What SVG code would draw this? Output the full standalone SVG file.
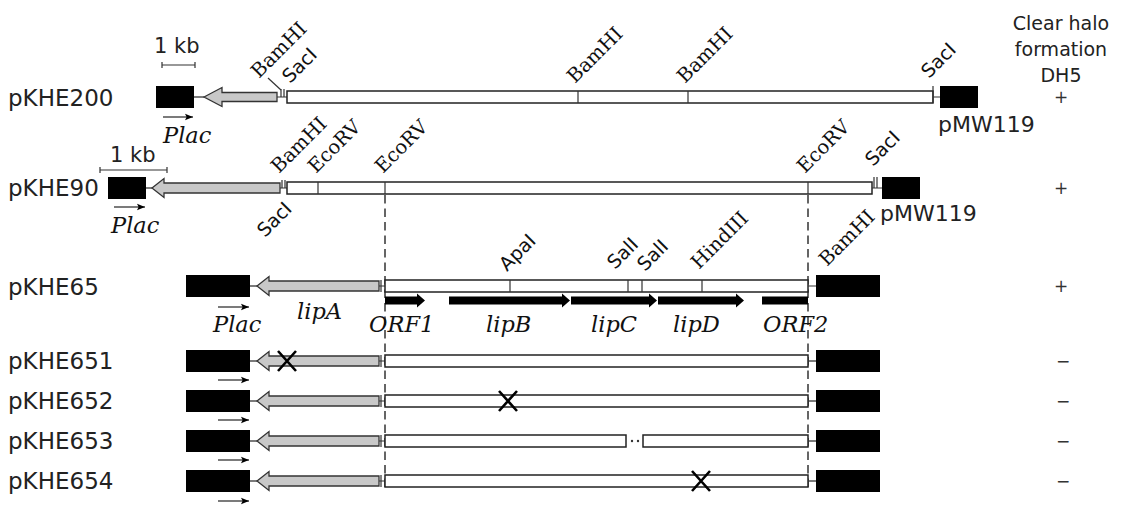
<svg xmlns="http://www.w3.org/2000/svg" width="1123" height="505" viewBox="0 0 1123 505">
<defs>
<style>
.lbl{font-family:"DejaVu Sans",sans-serif;font-size:23px;fill:#222}
.pmw{font-family:"DejaVu Sans",sans-serif;font-size:22px;fill:#222}
.kb{font-family:"DejaVu Sans",sans-serif;font-size:21px;fill:#222}
.hd{font-family:"DejaVu Sans",sans-serif;font-size:19px;fill:#222;text-anchor:middle}
.pm{font-family:"DejaVu Sans",sans-serif;font-size:17px;fill:#333;text-anchor:middle}
.site{font-family:"DejaVu Serif",serif;font-size:19.5px;fill:#111}
.sites{font-family:"DejaVu Sans",sans-serif;font-size:19px;fill:#111}
.it{font-family:"DejaVu Serif",serif;font-style:italic;font-size:22.5px;fill:#111}
.blk{fill:#000}
.gray{fill:#c8c8c8;stroke:#333;stroke-width:1.3}
.box{fill:#fff;stroke:#222;stroke-width:1.5}
.ln{stroke:#333;stroke-width:1.3;fill:none}
.tk{stroke:#333;stroke-width:1.2;fill:none}
.dash{stroke:#333;stroke-width:1.5;stroke-dasharray:8.5 5;fill:none}
.x{stroke:#000;stroke-width:2.6;fill:none}
.orf{fill:#000}
</style>
<marker id="ah" viewBox="0 0 10 10" refX="10" refY="5" markerWidth="9" markerHeight="8" markerUnits="userSpaceOnUse" orient="auto">
<path d="M0,1 L10,5 L0,9 L2,5 Z" fill="#000"/>
</marker>
</defs>
<rect width="1123" height="505" fill="#fff"/>

<g id="header">
<text class="hd" x="1061" y="30">Clear halo</text>
<text class="hd" x="1061" y="56">formation</text>
<text class="hd" x="1061" y="82">DH5</text>
</g>

<g id="connectors">
<line class="dash" x1="385" y1="195" x2="385" y2="492"/>
<line class="dash" x1="808" y1="195" x2="808" y2="492"/>
<line class="tk" x1="268" y1="78" x2="281" y2="90"/>
</g>

<g id="pKHE200">
<text class="lbl" x="8" y="106">pKHE200</text>
<text class="kb" x="154" y="53">1 kb</text>
<path class="tk" d="M162,65 H195 M162,62 V68 M195,62 V68"/>
<rect class="blk" x="156" y="86" width="38" height="22"/>
<line class="ln" x1="194" y1="97" x2="204" y2="97"/>
<polygon class="gray" points="204,97 222,87.5 222,92.5 277,92.5 277,101.5 222,101.5 222,106.5"/>
<path class="tk" d="M277,97 H287 M281,89 V97 M284,89 V97"/>
<rect class="box" x="287" y="91" width="646" height="12"/>
<path class="tk" d="M578,91 V103 M688,91 V103 M933,86 V103 M933,97 H940"/>
<rect class="blk" x="940" y="86" width="38" height="22"/>
<line class="ln" x1="163" y1="117" x2="193" y2="117" marker-end="url(#ah)"/>
<text class="it" x="163" y="143">Plac</text>
<text class="site" transform="translate(259,79) rotate(-45)">BamHI</text>
<text class="sites" transform="translate(290,84) rotate(-45)">SacI</text>
<text class="site" transform="translate(575,84) rotate(-45)">BamHI</text>
<text class="site" transform="translate(685,84) rotate(-45)">BamHI</text>
<text class="sites" transform="translate(929,79) rotate(-45)">SacI</text>
<text class="pmw" x="938" y="132">pMW119</text>
<text class="pm" x="1061" y="103">+</text>
</g>

<g id="pKHE90">
<text class="lbl" x="8" y="196">pKHE90</text>
<text class="kb" x="110" y="162">1 kb</text>
<path class="tk" d="M100,170 H167 M100,167 V173 M167,167 V173"/>
<rect class="blk" x="108" y="177" width="38" height="22"/>
<line class="ln" x1="146" y1="188" x2="152" y2="188"/>
<polygon class="gray" points="152,188 164,178.5 164,183 280,183 280,193 164,193 164,197.5"/>
<path class="tk" d="M280,188 H287 M282,180 V188 M285,180 V188"/>
<rect class="box" x="287" y="182" width="585" height="12"/>
<path class="tk" d="M318,182 V194 M385,182 V194 M808,182 V194 M874,177 V188 M877,177 V188 M872,188 H882"/>
<rect class="blk" x="882" y="177" width="38" height="22"/>
<line class="ln" x1="114" y1="207" x2="145" y2="207" marker-end="url(#ah)"/>
<text class="it" x="111" y="233">Plac</text>
<text class="site" transform="translate(279,174) rotate(-45)">BamHI</text>
<text class="site" transform="translate(316,174) rotate(-45)">EcoRV</text>
<text class="site" transform="translate(383,174) rotate(-45)">EcoRV</text>
<text class="site" transform="translate(805,174) rotate(-45)">EcoRV</text>
<text class="sites" transform="translate(873,167) rotate(-45)">SacI</text>
<text class="sites" transform="translate(293,210) rotate(-45)" text-anchor="end">SacI</text>
<text class="pmw" x="880" y="221">pMW119</text>
<text class="pm" x="1061" y="194">+</text>
</g>

<g id="pKHE65">
<text class="lbl" x="8" y="295">pKHE65</text>
<rect class="blk" x="186" y="275" width="64" height="22"/>
<line class="ln" x1="250" y1="286" x2="257" y2="286"/>
<polygon class="gray" points="257,286 269,276.5 269,281 379,281 379,291 269,291 269,295.5"/>
<path class="tk" d="M379,286 H385 M381,280 V292"/>
<rect class="box" x="385" y="280" width="423" height="12"/>
<path class="tk" d="M510,280 V292 M628,280 V292 M642,280 V292 M702,280 V292 M808,286 H816"/>
<rect class="blk" x="816" y="275" width="64" height="22"/>
<polygon class="orf" points="385,296.5 417,296.5 417,293.5 425,300.5 417,307.5 417,304.5 385,304.5"/>
<polygon class="orf" points="449,296.5 562,296.5 562,293.5 570,300.5 562,307.5 562,304.5 449,304.5"/>
<polygon class="orf" points="571,296.5 649,296.5 649,293.5 657,300.5 649,307.5 649,304.5 571,304.5"/>
<polygon class="orf" points="658,296.5 736,296.5 736,293.5 744,300.5 736,307.5 736,304.5 658,304.5"/>
<rect class="orf" x="762" y="296.5" width="46" height="8"/>
<line class="ln" x1="218" y1="307" x2="249" y2="307" marker-end="url(#ah)"/>
<text class="it" x="213" y="332">Plac</text>
<text class="it" x="297" y="319">lipA</text>
<text class="it" x="369" y="332">ORF1</text>
<text class="it" x="486" y="332">lipB</text>
<text class="it" x="591" y="332">lipC</text>
<text class="it" x="673" y="332">lipD</text>
<text class="it" x="763" y="332">ORF2</text>
<text class="sites" transform="translate(507,272) rotate(-45)">ApaI</text>
<text class="sites" transform="translate(615,270) rotate(-45)">SalI</text>
<text class="sites" transform="translate(645,272) rotate(-45)">SalI</text>
<text class="site" transform="translate(699,270) rotate(-45)">HindIII</text>
<text class="site" transform="translate(827,267) rotate(-45)">BamHI</text>
<text class="pm" x="1061" y="292">+</text>
</g>

<g id="pKHE651">
<text class="lbl" x="8" y="369">pKHE651</text>
<rect class="blk" x="186" y="350" width="64" height="22"/>
<line class="ln" x1="250" y1="361" x2="257" y2="361"/>
<polygon class="gray" points="257,361 269,351.5 269,356 379,356 379,366 269,366 269,370.5"/>
<path class="tk" d="M379,361 H385 M381,355 V367"/>
<rect class="box" x="385" y="355" width="423" height="12"/>
<line class="ln" x1="808" y1="361" x2="816" y2="361"/>
<rect class="blk" x="816" y="350" width="64" height="22"/>
<path class="x" d="M278,351 L296,371 M296,351 L278,371"/>
<line class="ln" x1="218" y1="380" x2="249" y2="380" marker-end="url(#ah)"/>
<text class="pm" x="1063" y="367">−</text>
</g>

<g id="pKHE652">
<text class="lbl" x="8" y="409">pKHE652</text>
<rect class="blk" x="186" y="390" width="64" height="22"/>
<line class="ln" x1="250" y1="401" x2="257" y2="401"/>
<polygon class="gray" points="257,401 269,391.5 269,396 379,396 379,406 269,406 269,410.5"/>
<path class="tk" d="M379,401 H385 M381,395 V407"/>
<rect class="box" x="385" y="395" width="423" height="12"/>
<line class="ln" x1="808" y1="401" x2="816" y2="401"/>
<rect class="blk" x="816" y="390" width="64" height="22"/>
<path class="x" d="M499,391 L517,411 M517,391 L499,411"/>
<line class="ln" x1="218" y1="420" x2="249" y2="420" marker-end="url(#ah)"/>
<text class="pm" x="1063" y="407">−</text>
</g>

<g id="pKHE653">
<text class="lbl" x="8" y="449">pKHE653</text>
<rect class="blk" x="186" y="430" width="64" height="22"/>
<line class="ln" x1="250" y1="441" x2="257" y2="441"/>
<polygon class="gray" points="257,441 269,431.5 269,436 379,436 379,446 269,446 269,450.5"/>
<path class="tk" d="M379,441 H385 M381,435 V447"/>
<rect class="box" x="385" y="435" width="241" height="12"/>
<circle cx="632" cy="441" r="1.2" fill="#333"/>
<circle cx="638" cy="441" r="1.2" fill="#333"/>
<rect class="box" x="643" y="435" width="165" height="12"/>
<line class="ln" x1="808" y1="441" x2="816" y2="441"/>
<rect class="blk" x="816" y="430" width="64" height="22"/>
<line class="ln" x1="218" y1="460" x2="249" y2="460" marker-end="url(#ah)"/>
<text class="pm" x="1063" y="447">−</text>
</g>

<g id="pKHE654">
<text class="lbl" x="8" y="489">pKHE654</text>
<rect class="blk" x="186" y="470" width="64" height="22"/>
<line class="ln" x1="250" y1="481" x2="257" y2="481"/>
<polygon class="gray" points="257,481 269,471.5 269,476 379,476 379,486 269,486 269,490.5"/>
<path class="tk" d="M379,481 H385 M381,475 V487"/>
<rect class="box" x="385" y="475" width="423" height="12"/>
<line class="ln" x1="808" y1="481" x2="816" y2="481"/>
<rect class="blk" x="816" y="470" width="64" height="22"/>
<path class="x" d="M692,471 L710,491 M710,471 L692,491"/>
<line class="ln" x1="218" y1="501" x2="249" y2="501" marker-end="url(#ah)"/>
<text class="pm" x="1063" y="487">−</text>
</g>
</svg>
